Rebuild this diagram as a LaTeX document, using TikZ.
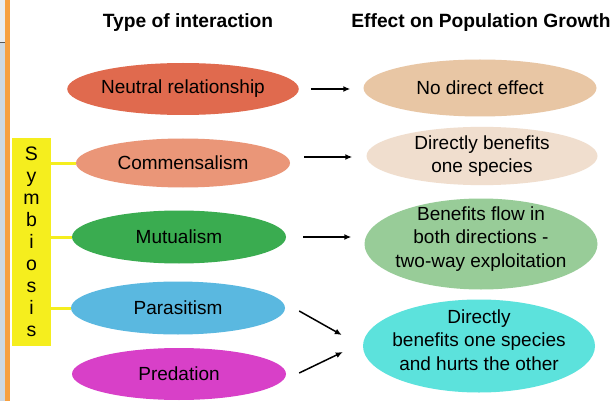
\documentclass[tikz,border=0pt]{standalone}
\usepackage{fontspec}
\setmainfont{Liberation Sans}
\usetikzlibrary{shapes.geometric,arrows.meta,calc}

\definecolor{cNeutral}{RGB}{224,106,78}
\definecolor{cCommens}{RGB}{234,150,120}
\definecolor{cMutual}{RGB}{58,172,80}
\definecolor{cParasit}{RGB}{90,184,224}
\definecolor{cPredat}{RGB}{216,64,200}
\definecolor{cNoEff}{RGB}{232,198,164}
\definecolor{cOneSp}{RGB}{240,222,206}
\definecolor{cBoth}{RGB}{152,204,152}
\definecolor{cHurts}{RGB}{92,226,220}
\definecolor{cYellow}{RGB}{245,238,30}
\definecolor{cOrange}{RGB}{247,160,64}
\definecolor{cPaneTop}{RGB}{232,236,241}
\definecolor{cPaneLow}{RGB}{205,216,227}

\tikzset{
  bodytext/.style={inner sep=0pt, align=center,
    font=\fontsize{19}{23.5}\selectfont},
  oval/.style={ellipse, bodytext},
  kind/.style={oval, minimum width=214pt, minimum height=52pt},
  effect/.style={oval, minimum width=233pt},
  heading/.style={font=\fontsize{19.2}{22}\selectfont\bfseries},
  arr/.style={line width=1.5pt, -{Latex[length=7pt,width=6pt]}},
  link/.style={cYellow, line width=3pt},
}

\begin{document}
\begin{tikzpicture}[x=1pt,y=-1pt]
  \useasboundingbox (0,0) rectangle (613,401);
  \fill[white] (0,0) rectangle (613,401);

  % side pane at the left edge
  \fill[cPaneTop] (0,0) rectangle (5,42);
  \fill[cPaneLow] (0,42) rectangle (5,401);
  \draw[gray!70!black, line width=0.8pt] (0,42) -- (5,42);
  \fill[cOrange] (5,0) rectangle (10,401);

  % column headings
  \node[heading] (hType) at (188,23) {Type of interaction};
  \node[heading] (hEffect) at (481,23) {Effect on Population Growth};

  % types of interaction
  \node[kind, fill=cNeutral] (neutral) at (183,89) {Neutral relationship};
  \node[kind, fill=cCommens, minimum height=49pt] (commens) at (183,163) {Commensalism};
  \node[kind, fill=cMutual, minimum height=53pt] (mutual) at (179,237) {Mutualism};
  \node[kind, fill=cParasit, minimum height=53pt] (parasit) at (178,308) {Parasitism};
  \node[kind, fill=cPredat] (predat) at (179,374) {Predation};

  % effects on population growth
  \node[effect, fill=cNoEff, minimum height=57pt] (noeff) at (480,88) {No direct effect};
  \node[effect, fill=cOneSp, minimum width=231pt, minimum height=55pt] (onesp) at (482,156)
    {Directly benefits\\one species};
  \node[effect, fill=cBoth, minimum height=91pt] (both) at (481,244) {};
  \node[bodytext] (bothText) at ($(both)+(0,-5)$)
    {Benefits flow in\\both directions -\\two-way exploitation};
  \node[effect, fill=cHurts, minimum width=232pt, minimum height=93pt] (hurts) at (479,346) {};
  \node[bodytext] (hurtsText) at ($(hurts)+(0,-6)$)
    {Directly\\benefits one species\\and hurts the other};

  % symbiosis bracket
  \node[fill=cYellow, minimum width=39pt, minimum height=207pt, inner sep=0pt,
        align=center, font=\fontsize{19.5}{22}\selectfont] (symb) at (31.5,242)
    {S\\y\\m\\b\\i\\o\\s\\i\\s};
  \draw[link] (symb.east |- commens.west) -- (commens.west);
  \draw[link] (symb.east |- mutual.west) -- (mutual.west);
  \draw[link] (symb.east |- parasit.west) -- (parasit.west);

  % arrows from interaction to effect
  \draw[arr] ([xshift=12pt]neutral.east) -- ([xshift=-13pt,yshift=-1pt]noeff.west);
  \draw[arr] ([xshift=14pt,yshift=6pt]commens.east) -- ([xshift=-14pt,yshift=-1pt]onesp.west);
  \draw[arr] ([xshift=17pt]mutual.east) -- ([xshift=-13pt,yshift=7pt]both.west);
  \draw[arr] ($(parasit.east)+(14,3)$) -- ($(hurts.west)+(-21,-11)$);
  \draw[arr] ($(predat.east)+(13,-1)$) -- ($(hurts.west)+(-20,6)$);
\end{tikzpicture}
\end{document}
